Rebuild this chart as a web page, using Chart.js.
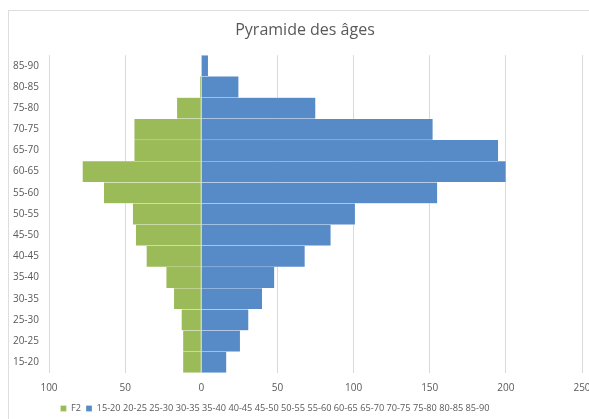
<!DOCTYPE html>
<html>
<head>
<meta charset="utf-8">
<script src="https://cdn.jsdelivr.net/npm/chart.js@4"></script>
<style>
  html, body { margin: 0; padding: 0; background: #fff; overflow: hidden; }
  #wrap { position: relative; width: 589px; height: 419px; }
  #frame { position: absolute; left: 8px; top: 10px; width: 600px; height: 430px;
           border-left: 1px solid #dedede; border-top: 1px solid #dedede; }
  canvas { position: absolute; left: 0; top: 0; }
</style>
</head>
<body>
<div id="wrap">
  <div id="frame"></div>
  <canvas id="pyramid" width="589" height="419"></canvas>
</div>
<script>
// age groups, bottom to top
const ageGroups = ['15-20', '20-25', '25-30', '30-35', '35-40', '40-45', '45-50', '50-55',
                   '55-60', '60-65', '65-70', '70-75', '75-80', '80-85', '85-90'];
// left side (drawn as negative values)
const f2Values = [12, 12, 13, 18, 23, 36, 43, 45, 64, 78, 44, 44, 16, 1, 0];
// right side
const rightValues = [16.5, 25.5, 31, 40, 48, 68, 85, 101, 155, 200, 195, 152, 75, 24.5, 4.5];
const xTicks = [-100, -50, 0, 50, 100, 150, 200, 250];

const rightLabel = ageGroups.join(' ');

// title sits a bit right of centre, legend a bit left, as in the original
const boxShift = {
    id: 'boxShift',
    afterLayout(chart) {
        const t = chart.titleBlock;
        if (t) { t.left += 10; t.right += 10; }
        const lg = chart.legend;
        if (lg) { lg.left -= 20; lg.right -= 20; }
    }
};

document.addEventListener('DOMContentLoaded', function() {
    drawPyramid();
});

function drawPyramid() {
    const ctx = document.getElementById('pyramid').getContext('2d');
    new Chart(ctx, {
        type: 'bar',
        data: {
            labels: ageGroups,
            datasets: [{
                label: 'F2',
                data: f2Values.map(v => -v),
                backgroundColor: '#9bbb59',
                borderColor: 'rgba(255,255,255,0.5)',
                borderWidth: 0.5,
                barPercentage: 1,
                categoryPercentage: 1
            }, {
                label: rightLabel,
                data: rightValues,
                backgroundColor: '#578bc8',
                borderColor: 'rgba(255,255,255,0.5)',
                borderWidth: 0.5,
                barPercentage: 1,
                categoryPercentage: 1
            }]
        },
        options: {
            indexAxis: 'y',
            responsive: false,
            animation: false,
            layout: { padding: { left: 8, right: 7, top: 4, bottom: -4 } },
            scales: {
                x: {
                    stacked: true,
                    min: -100,
                    max: 250,
                    afterBuildTicks: scale => { scale.ticks = xTicks.map(v => ({ value: v })); },
                    afterFit: scale => {
                        scale.paddingLeft = 0;
                        scale.paddingRight = 0;
                        scale.height = 26;
                    },
                    ticks: {
                        color: '#595959',
                        font: { family: 'Open Sans', size: 10 },
                        padding: 9,
                        callback: v => Math.abs(v)
                    },
                    grid: { color: '#d9d9d9', drawTicks: false },
                    border: { display: false }
                },
                y: {
                    stacked: true,
                    reverse: true,
                    afterFit: scale => { scale.width = 41; },
                    ticks: {
                        color: '#595959',
                        font: { family: 'Open Sans', size: 10 },
                        padding: 10
                    },
                    grid: { display: false, drawTicks: false },
                    border: { display: false }
                }
            },
            plugins: {
                title: {
                    display: true,
                    text: 'Pyramide des âges',
                    color: '#595959',
                    font: { family: 'Open Sans', size: 16, weight: 'normal' },
                    padding: { top: 17, bottom: 15 }
                },
                legend: {
                    position: 'bottom',
                    labels: {
                        color: '#595959',
                        font: { family: 'Open Sans', size: 9.2 },
                        boxWidth: 6,
                        boxHeight: 6,
                        padding: 5
                    }
                },
                tooltip: { enabled: false }
            }
        },
        plugins: [boxShift]
    });
}
</script>
</body>
</html>
